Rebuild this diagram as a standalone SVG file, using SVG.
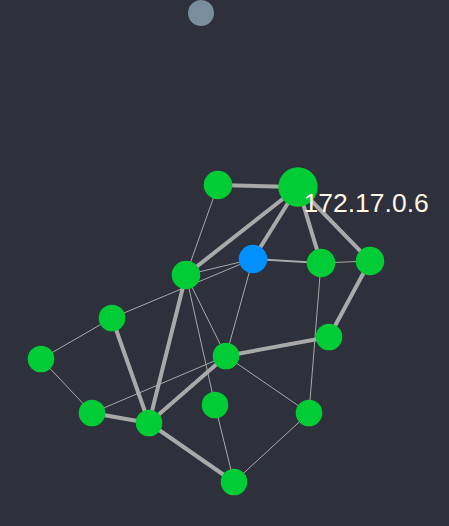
<svg xmlns="http://www.w3.org/2000/svg" width="449" height="526" viewBox="0 0 449 526">
<style>
.e{stroke:#a9a9a9;stroke-linecap:round;fill:none}
.t1{stroke-width:1}
.t2{stroke-width:2}
.t4{stroke-width:4}
.g{fill:#00cc36}
.b{fill:#0090ff}
.s{fill:#7a8d9d}
.lbl{font-family:"Liberation Sans",Arial,sans-serif;font-size:26.5px;fill:#fff6e4}
</style>
<rect width="449" height="526" fill="#2e303b"/>
<g id="edges">
<line class="e t4" x1="218" y1="185" x2="298" y2="187"/>
<line class="e t4" x1="298" y1="187" x2="186" y2="275"/>
<line class="e t4" x1="298" y1="187" x2="253" y2="259"/>
<line class="e t4" x1="298" y1="187" x2="321" y2="263"/>
<line class="e t4" x1="298" y1="187" x2="370" y2="261"/>
<line class="e t4" x1="370" y1="261" x2="329" y2="337"/>
<line class="e t4" x1="226" y1="356" x2="329" y2="337"/>
<line class="e t4" x1="112" y1="318" x2="149" y2="423"/>
<line class="e t4" x1="92" y1="413" x2="149" y2="423"/>
<line class="e t4" x1="186" y1="275" x2="149" y2="423"/>
<line class="e t4" x1="226" y1="356" x2="149" y2="423"/>
<line class="e t4" x1="149" y1="423" x2="234" y2="482"/>
<line class="e t2" x1="253" y1="259" x2="321" y2="263"/>
<line class="e t1" x1="218" y1="185" x2="186" y2="275"/>
<line class="e t1" x1="253" y1="259" x2="186" y2="275"/>
<line class="e t1" x1="253" y1="259" x2="112" y2="318"/>
<line class="e t1" x1="321" y1="263" x2="370" y2="261"/>
<line class="e t1" x1="112" y1="318" x2="41" y2="359"/>
<line class="e t1" x1="41" y1="359" x2="92" y2="413"/>
<line class="e t1" x1="92" y1="413" x2="226" y2="356"/>
<line class="e t1" x1="186" y1="275" x2="226" y2="356"/>
<line class="e t1" x1="186" y1="275" x2="215" y2="405"/>
<line class="e t1" x1="253" y1="259" x2="226" y2="356"/>
<line class="e t1" x1="226" y1="356" x2="309" y2="413"/>
<line class="e t1" x1="321" y1="263" x2="309" y2="413"/>
<line class="e t1" x1="215" y1="405" x2="234" y2="482"/>
<line class="e t1" x1="309" y1="413" x2="234" y2="482"/>
</g>
<g id="n-gray"><circle class="s" cx="201" cy="13" r="13"/></g>
<g id="n-a"><circle class="g" cx="218" cy="185" r="14.3"/></g>
<g id="n-main"><circle class="g" cx="298" cy="187" r="19.7"/><text class="lbl" x="303.5" y="212">172.17.0.6</text></g>
<g id="n-blue"><circle class="b" cx="253" cy="259" r="14.3"/></g>
<g id="n-d"><circle class="g" cx="186" cy="275" r="14.3"/></g>
<g id="n-e"><circle class="g" cx="321" cy="263" r="14.3"/></g>
<g id="n-f"><circle class="g" cx="370" cy="261" r="14.3"/></g>
<g id="n-g"><circle class="g" cx="112" cy="318" r="13.3"/></g>
<g id="n-h"><circle class="g" cx="41" cy="359" r="13.3"/></g>
<g id="n-o"><circle class="g" cx="329" cy="337" r="13.3"/></g>
<g id="n-i"><circle class="g" cx="226" cy="356" r="13.3"/></g>
<g id="n-j"><circle class="g" cx="215" cy="405" r="13.3"/></g>
<g id="n-n"><circle class="g" cx="309" cy="413" r="13.3"/></g>
<g id="n-k"><circle class="g" cx="92" cy="413" r="13.3"/></g>
<g id="n-l"><circle class="g" cx="149" cy="423" r="13.3"/></g>
<g id="n-m"><circle class="g" cx="234" cy="482" r="13.3"/></g>
</svg>
